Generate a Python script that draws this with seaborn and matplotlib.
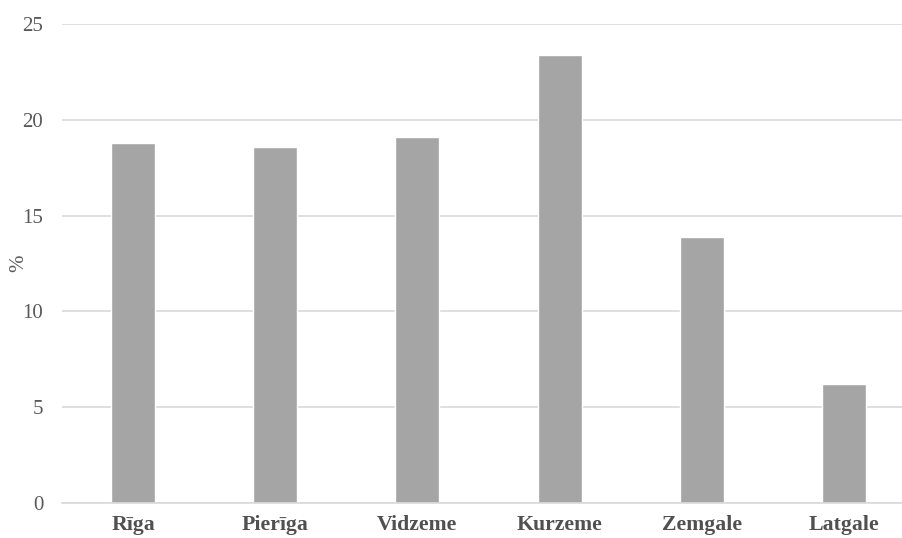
import matplotlib
matplotlib.use("Agg")
import matplotlib.pyplot as plt
import seaborn as sns
import pandas as pd

# Regions and their shares (%)
regions = ["Rīga", "Pierīga", "Vidzeme", "Kurzeme", "Zemgale", "Latgale"]
shares = [18.8, 18.6, 19.1, 23.4, 13.9, 6.2]
y_ticks = [0, 5, 10, 15, 20, 25]

sns.set_theme(style="white")
plt.rcParams["font.family"] = ["Liberation Serif", "DejaVu Serif"]

df = pd.DataFrame({"region": regions, "share": shares})

fig = plt.figure(figsize=(9.02, 5.38), dpi=100)
ax = fig.add_axes([0.0687, 0.065, 0.9457, 0.8903])

sns.barplot(data=df, x="region", y="share", color="#a5a5a5",
            width=0.31, saturation=1, ax=ax, zorder=3)

ax.set_xlim(-0.5, 5.5)
ax.set_ylim(0, 25)
ax.set_yticks(y_ticks)
ax.set_yticklabels([str(t) for t in y_ticks], fontsize=15, color="#595959")
ax.set_xticks(range(len(regions)))
ax.set_xticklabels(regions, fontsize=15.7, fontweight="bold", color="#505050")

ax.yaxis.grid(True, color="#d9d9d9", linewidth=1.2, zorder=0)
ax.xaxis.grid(False)
for side in ["top", "right", "left"]:
    ax.spines[side].set_visible(False)
ax.spines["bottom"].set_color("#d9d9d9")
ax.spines["bottom"].set_linewidth(1.2)
ax.spines["bottom"].set_zorder(4)

ax.tick_params(axis="both", length=0)
ax.tick_params(axis="y", pad=13.5)
ax.tick_params(axis="x", pad=8.5)

ax.set_xlabel("")
ax.set_ylabel("")
fig.text(19 / 902, 1 - 263 / 538, "%", rotation=90, ha="center", va="center",
         fontsize=15, color="#595959")

fig.savefig("out.png", dpi=100)
